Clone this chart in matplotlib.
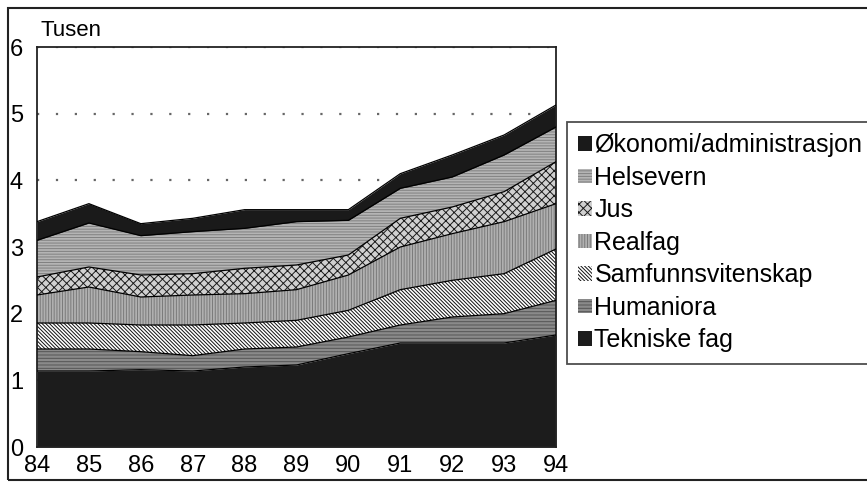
import numpy as np
import matplotlib
matplotlib.use("Agg")
import matplotlib.pyplot as plt
from matplotlib.patches import Rectangle

plt.rcParams['font.family'] = ['Liberation Sans', 'DejaVu Sans']
plt.rcParams['hatch.linewidth'] = 0.7

years = ['84', '85', '86', '87', '88', '89', '90', '91', '92', '93', '94']

# studenter (tusen), stacked bottom -> top
tekniske = [1.14, 1.14, 1.16, 1.14, 1.20, 1.23, 1.40, 1.56, 1.56, 1.56, 1.68]
humaniora = [0.33, 0.33, 0.27, 0.23, 0.27, 0.27, 0.25, 0.27, 0.39, 0.44, 0.52]
samfunn = [0.39, 0.39, 0.40, 0.46, 0.39, 0.40, 0.40, 0.53, 0.55, 0.60, 0.77]
realfag = [0.42, 0.54, 0.42, 0.45, 0.44, 0.46, 0.53, 0.64, 0.70, 0.78, 0.68]
jus = [0.27, 0.30, 0.33, 0.32, 0.38, 0.37, 0.30, 0.43, 0.40, 0.45, 0.63]
helse = [0.55, 0.66, 0.59, 0.63, 0.60, 0.65, 0.52, 0.45, 0.45, 0.55, 0.52]
okonomi = [0.28, 0.29, 0.18, 0.20, 0.28, 0.18, 0.16, 0.22, 0.33, 0.30, 0.33]

labels = ['Tekniske fag', 'Humaniora', 'Samfunnsvitenskap', 'Realfag',
          'Jus', 'Helsevern', 'Økonomi/administrasjon']
series = [tekniske, humaniora, samfunn, realfag, jus, helse, okonomi]

# face, hatch colour, hatch
styles = [
    ('#1c1c1c', '#1c1c1c', None),
    ('#8a8a8a', '#555555', '-----'),
    ('#ffffff', '#111111', '\\' * 9),
    ('#b0b0b0', '#7a7a7a', '||||||'),
    ('#d0d0d0', '#1a1a1a', 'xxxx'),
    ('#b4b4b4', '#808080', '------'),
    ('#1a1a1a', '#1a1a1a', None),
]

fig = plt.figure(figsize=(8.67, 4.83), dpi=100)
ax = fig.add_axes([37 / 867, 36 / 483, 519 / 867, 400 / 483])

x = np.arange(len(years))
data = np.array(series)
tops = np.cumsum(data, axis=0)
bottoms = np.vstack([np.zeros(len(years)), tops[:-1]])

handles = []
for i, lab in enumerate(labels):
    face, hcol, hatch = styles[i]
    h = ax.fill_between(x, bottoms[i], tops[i], facecolor=face, edgecolor=hcol,
                        hatch=hatch, linewidth=0, label=lab, zorder=2)
    handles.append(h)
    ax.plot(x, tops[i], color='black', linewidth=0.9, zorder=3)

ax.set_xlim(0, len(years) - 1)
ax.set_ylim(0, 6)
ax.set_xticks(x)
ax.set_xticklabels(years)
ax.set_yticks(range(7))
ax.tick_params(axis='both', length=0, labelsize=17)
ax.tick_params(axis='y', pad=10)
ax.tick_params(axis='x', pad=6)
ax.yaxis.grid(True, linestyle=(0, (1, 7.5)), color='#666666', linewidth=1.6, zorder=0)
ax.set_axisbelow(True)
for sp in ax.spines.values():
    sp.set_linewidth(1.3)
    sp.set_color('#222222')

ax.text(0.006, 1.015, 'Tusen', transform=ax.transAxes, fontsize=16,
        ha='left', va='bottom')

leg = fig.legend(handles[::-1], labels[::-1], loc='upper left',
                 bbox_to_anchor=(567 / 867, 1 - 122 / 483), borderaxespad=0,
                 fontsize=18, frameon=True, fancybox=False, handlelength=0.55,
                 handleheight=0.5, handletextpad=0.1, labelspacing=0.34,
                 borderpad=0.45)
leg.get_frame().set_edgecolor('#222222')
leg.get_frame().set_linewidth(1.3)

fig.patches.append(Rectangle((8 / 867, 3 / 483), 1.0, 472 / 483,
                             transform=fig.transFigure, fill=False,
                             edgecolor='#222222', linewidth=1.5))

fig.savefig('out.png', dpi=100)
